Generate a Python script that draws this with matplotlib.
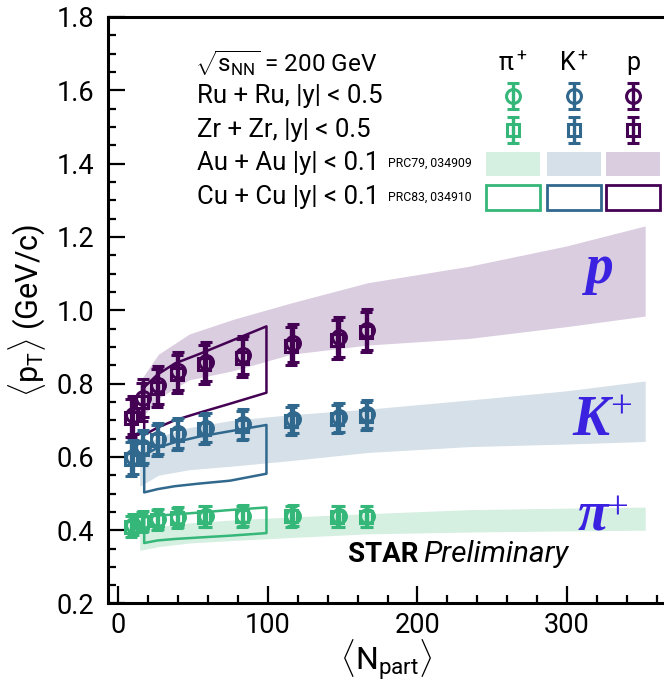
import numpy as np
import matplotlib
matplotlib.use("Agg")
import matplotlib.pyplot as plt
from matplotlib.patches import Rectangle
from matplotlib.ticker import MultipleLocator

plt.rcParams["font.family"] = ["Roboto", "DejaVu Sans"]
plt.rcParams["mathtext.fontset"] = "custom"
plt.rcParams["mathtext.rm"] = "Roboto"
plt.rcParams["mathtext.it"] = "Roboto:italic"
plt.rcParams["mathtext.bf"] = "Roboto:bold"

# isobar collisions, |y| < 0.5
npart_ru = [10.0, 16.5, 26.5, 40.0, 58.5, 83.5, 116.5, 147.5, 166.5]
npart_zr = [8.5, 15.5, 25.5, 39.0, 57.5, 82.5, 115.5, 146.5, 165.5]

pi_ru = [0.415, 0.425, 0.430, 0.435, 0.438, 0.440, 0.440, 0.438, 0.438]
pi_zr = [0.410, 0.422, 0.428, 0.433, 0.437, 0.438, 0.438, 0.437, 0.437]
k_ru = [0.600, 0.628, 0.650, 0.665, 0.680, 0.690, 0.703, 0.708, 0.717]
k_zr = [0.595, 0.622, 0.645, 0.660, 0.675, 0.685, 0.698, 0.703, 0.712]
p_ru = [0.715, 0.760, 0.795, 0.835, 0.860, 0.877, 0.910, 0.927, 0.947]
p_zr = [0.705, 0.750, 0.787, 0.826, 0.852, 0.870, 0.902, 0.920, 0.940]

pi_err = [0.028, 0.027, 0.027, 0.027, 0.028, 0.028, 0.029, 0.029, 0.029]
k_err = [0.046, 0.044, 0.042, 0.040, 0.040, 0.040, 0.039, 0.039, 0.039]
p_err = [0.052, 0.052, 0.052, 0.052, 0.052, 0.052, 0.052, 0.054, 0.055]

# Au+Au |y| < 0.1 (PRC79, 034909), band = syst. range
npart_au = [14.2, 26.7, 47.3, 76.6, 115.5, 166.7, 234.6, 299.3, 352.4]
pi_au_lo = [0.345, 0.355, 0.365, 0.372, 0.380, 0.390, 0.395, 0.398, 0.400]
pi_au_hi = [0.400, 0.410, 0.420, 0.428, 0.436, 0.445, 0.456, 0.460, 0.463]
k_au_lo = [0.520, 0.550, 0.565, 0.575, 0.590, 0.612, 0.628, 0.635, 0.642]
k_au_hi = [0.620, 0.655, 0.680, 0.700, 0.715, 0.730, 0.755, 0.780, 0.807]
p_au_lo = [0.700, 0.760, 0.810, 0.835, 0.880, 0.905, 0.923, 0.955, 0.984]
p_au_hi = [0.805, 0.880, 0.935, 0.975, 1.020, 1.075, 1.120, 1.175, 1.230]

# Cu+Cu |y| < 0.1 (PRC83, 034910)
npart_cu = [17.2, 26.2, 37.8, 53.7, 74.6, 99.0]
pi_cu_lo = [0.365, 0.372, 0.376, 0.380, 0.385, 0.392]
pi_cu_hi = [0.435, 0.440, 0.443, 0.448, 0.455, 0.462]
k_cu_lo = [0.503, 0.512, 0.520, 0.527, 0.535, 0.554]
k_cu_hi = [0.605, 0.625, 0.640, 0.655, 0.670, 0.687]
p_cu_lo = [0.660, 0.680, 0.700, 0.720, 0.745, 0.775]
p_cu_hi = [0.790, 0.825, 0.855, 0.880, 0.915, 0.956]

C_PI, C_K, C_P = "#35b779", "#31688e", "#440154"
L_PI, L_K, L_P = "#d5efe1", "#d5e0e8", "#dacde0"
LABEL_BLUE = "#3a22e0"

fig = plt.figure(figsize=(6.64, 6.84), dpi=100)
ax = fig.add_axes([0.1627, 0.1177, 0.8373, 0.8575])
ax.set_xlim(-7, 365)
ax.set_ylim(0.2, 1.8)

species = [
    (C_PI, L_PI, pi_ru, pi_zr, pi_err, pi_au_lo, pi_au_hi, pi_cu_lo, pi_cu_hi),
    (C_K, L_K, k_ru, k_zr, k_err, k_au_lo, k_au_hi, k_cu_lo, k_cu_hi),
    (C_P, L_P, p_ru, p_zr, p_err, p_au_lo, p_au_hi, p_cu_lo, p_cu_hi),
]

cu_x = np.r_[npart_cu, npart_cu[::-1], npart_cu[0]]
for c, light, ru, zr, err, au_lo, au_hi, cu_lo, cu_hi in species:
    ax.fill_between(npart_au, au_lo, au_hi, color=light, lw=0, zorder=1)
    cu_y = np.r_[cu_hi, cu_lo[::-1], cu_hi[0]]
    ax.plot(cu_x, cu_y, color=c, lw=1.8, zorder=2)
    ax.errorbar(npart_zr, zr, yerr=err, fmt="s", ms=9, mfc="none", mec=c, mew=2.2,
                ecolor=c, elinewidth=2.4, capsize=4, capthick=2.4, zorder=3)
    ax.errorbar(npart_ru, ru, yerr=err, fmt="o", ms=10, mfc="none", mec=c, mew=2.2,
                ecolor=c, elinewidth=2.4, capsize=4, capthick=2.4, zorder=4)

# particle names next to the bands
serif = dict(family="Liberation Serif", style="italic", weight="bold", color=LABEL_BLUE)
ax.text(322, 1.073, "p", fontsize=40, ha="center", va="baseline", **serif)
ax.text(316, 0.660, "K", fontsize=40, ha="center", va="baseline", **serif)
ax.text(336, 0.733, "+", fontsize=28, ha="center", va="center",
        family="Liberation Serif", color=LABEL_BLUE)
ax.text(317, 0.401, "\u03c0", fontsize=40, ha="center", va="baseline", **serif)
ax.text(333.5, 0.458, "+", fontsize=28, ha="center", va="center",
        family="Liberation Serif", color=LABEL_BLUE)

ax.text(201, 0.314, "STAR", fontsize=20, fontweight="bold", ha="right", va="baseline")
ax.text(204, 0.314, "Preliminary", fontsize=21.5, style="italic", ha="left", va="baseline")

ax.xaxis.set_major_locator(MultipleLocator(100))
ax.xaxis.set_minor_locator(MultipleLocator(20))
ax.yaxis.set_major_locator(MultipleLocator(0.2))
ax.yaxis.set_minor_locator(MultipleLocator(0.05))
ax.yaxis.set_major_formatter(plt.FormatStrFormatter("%.1f"))
ax.tick_params(which="both", direction="in", width=1.6, labelsize=19.5)
ax.tick_params(which="major", length=12)
ax.tick_params(which="minor", length=6)
ax.tick_params(axis="x", pad=6)
ax.tick_params(axis="y", pad=10)
ax.spines["right"].set_visible(False)
for s in ["left", "bottom", "top"]:
    ax.spines[s].set_linewidth(2.2)

ax.set_xlabel(r"$\langle$N$_{\rm part}\rangle$", fontsize=23, labelpad=-1)
ax.set_ylabel(r"$\langle$p$_{\rm T}\rangle$ (GeV/c)", fontsize=22, labelpad=6)

# legend block, laid out in figure pixels
lax = fig.add_axes([0, 0, 1, 1], zorder=5)
lax.set_xlim(0, 664)
lax.set_ylim(684, 0)
lax.axis("off")

lax.text(195, 63, r"$\sqrt{\mathrm{s_{NN}}}$ = 200 GeV", fontsize=17.5, va="center")
rows = ["Ru + Ru, |y| < 0.5", "Zr + Zr, |y| < 0.5", "Au + Au |y| < 0.1", "Cu + Cu |y| < 0.1"]
row_y = [96, 130, 163, 197]
for txt, yy in zip(rows, row_y):
    lax.text(197, yy, txt, fontsize=18.5, va="center")
lax.text(388, 163, "PRC79, 034909", fontsize=8.8, va="center")
lax.text(388, 197, "PRC83, 034910", fontsize=8.8, va="center")

headers = ["\u03c0$^+$", "K$^+$", "p"]
col_x = [513, 574, 633]
col_c = [C_PI, C_K, C_P]
col_l = [L_PI, L_K, L_P]
for h, cx, c, light in zip(headers, col_x, col_c, col_l):
    lax.text(cx, 63, h, fontsize=18, ha="center", va="center")
    lax.errorbar([cx], [96], yerr=[13], fmt="o", ms=10, mfc="none", mec=c, mew=2.2,
                 ecolor=c, elinewidth=2.4, capsize=4, capthick=2.4)
    lax.errorbar([cx], [130], yerr=[13], fmt="s", ms=9, mfc="none", mec=c, mew=2.2,
                 ecolor=c, elinewidth=2.4, capsize=4, capthick=2.4)
    lax.add_patch(Rectangle((cx - 27, 152), 54, 24, facecolor=light, edgecolor="none"))
    lax.add_patch(Rectangle((cx - 27, 185), 54, 25, facecolor="none", edgecolor=c, lw=2))

fig.savefig("out.png", dpi=100)
